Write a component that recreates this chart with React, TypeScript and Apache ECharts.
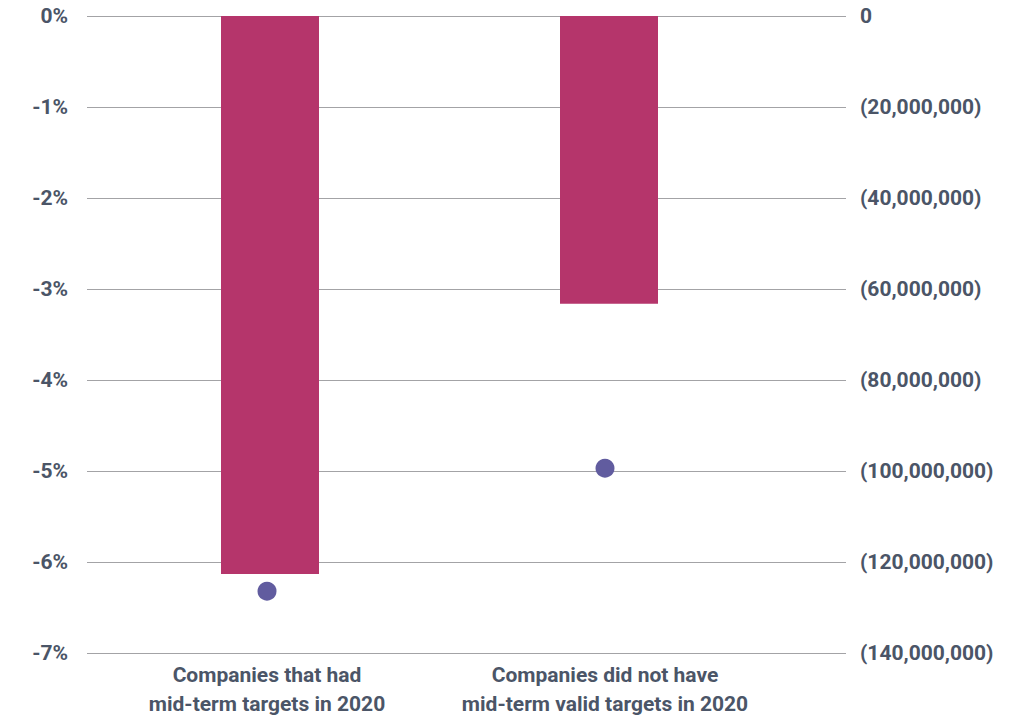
import React, { useEffect, useRef } from "react";
import * as echarts from "echarts";

// Category labels under each pair of marks
const categories = [
  "Companies that had\nmid-term targets in 2020",
  "Companies did not have\nmid-term valid targets in 2020",
];

// Absolute emissions change (right axis, tCO2e)
const absoluteChange = [-122600000, -63200000];

// Percentage change (left axis, %)
const percentChange = [-6.36, -5.0];

// Axis extents
const pctMin = -7;
const pctMax = 0;
const pctStep = 1;
const absMin = -140000000;
const absMax = 0;
const absStep = 20000000;

const TEXT = "#4b5567";
const FONT = "Roboto";
const FONT_SIZE = 21;

function fmtAbs(v: number): string {
  if (v === 0) return "0";
  const s = Math.abs(v).toLocaleString("en-US");
  return v < 0 ? `(${s})` : s;
}

export default function App() {
  const ref = useRef<HTMLDivElement>(null);

  useEffect(() => {
    if (!ref.current) return;
    const chart = echarts.init(ref.current, undefined, { renderer: "svg" });
    const top = 16;
    const bottom = 64.7;

    const pctAxisBase = { type: "value" as const, min: pctMin, max: pctMax, interval: pctStep };
    const absAxisBase = { type: "value" as const, min: absMin, max: absMax, interval: absStep };
    const hiddenY = { show: false, splitLine: { show: false } };

    chart.setOption({
      animation: false,
      backgroundColor: "#ffffff",
      grid: [
        // frame carrying the gridlines and both value axes
        { left: 87, right: 1018 - 846, top, bottom },
        // bars
        { left: 100.5, right: 1018 - 778.5, top, bottom },
        // dots and category labels
        { left: 98, right: 1018 - 774, top, bottom },
      ],
      xAxis: [
        { gridIndex: 0, type: "category", data: categories, show: false },
        { gridIndex: 1, type: "category", data: categories, show: false },
        {
          gridIndex: 2,
          type: "category",
          data: categories,
          axisLine: { show: false },
          axisTick: { show: false },
          axisLabel: {
            color: TEXT,
            fontFamily: FONT,
            fontWeight: "bold",
            fontSize: FONT_SIZE,
            lineHeight: 29,
            margin: 11,
            interval: 0,
          },
        },
      ],
      yAxis: [
        {
          ...pctAxisBase,
          gridIndex: 0,
          position: "left",
          axisLine: { show: false },
          axisTick: { show: false },
          splitLine: { show: true, lineStyle: { color: "#a3a3a6", width: 1 } },
          axisLabel: {
            color: TEXT,
            fontFamily: FONT,
            fontWeight: "bold",
            fontSize: FONT_SIZE,
            margin: 19,
            formatter: (v: number) => `${v}%`,
          },
        },
        {
          ...absAxisBase,
          gridIndex: 0,
          position: "right",
          axisLine: { show: false },
          axisTick: { show: false },
          splitLine: { show: false },
          axisLabel: {
            color: TEXT,
            fontFamily: FONT,
            fontWeight: "bold",
            fontSize: FONT_SIZE,
            margin: 14,
            formatter: (v: number) => fmtAbs(v),
          },
        },
        { ...absAxisBase, gridIndex: 1, ...hiddenY },
        { ...pctAxisBase, gridIndex: 2, ...hiddenY },
      ],
      series: [
        {
          type: "bar",
          xAxisIndex: 1,
          yAxisIndex: 2,
          data: absoluteChange,
          barWidth: 98,
          itemStyle: { color: "#b5356b" },
        },
        {
          type: "scatter",
          xAxisIndex: 2,
          yAxisIndex: 3,
          data: percentChange,
          symbol: "circle",
          symbolSize: 19,
          itemStyle: { color: "#615c9f", opacity: 1 },
        },
      ],
    });

    return () => chart.dispose();
  }, []);

  return (
    <div
      ref={ref}
      style={{ position: "fixed", left: 0, top: 0, width: 1018, height: 718 }}
    />
  );
}
